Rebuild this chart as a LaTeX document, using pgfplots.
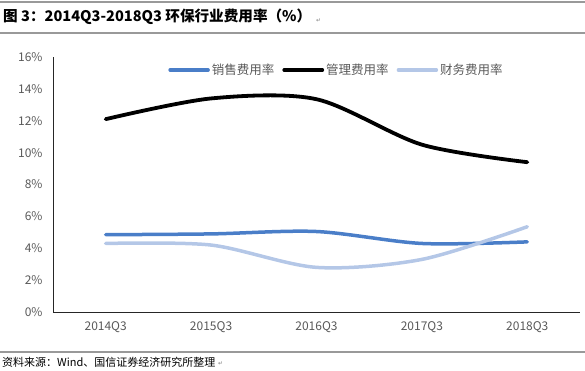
\documentclass[border=0pt]{standalone}
\usepackage{fontspec}
\setmainfont{Noto Sans CJK SC}
\newfontfamily\symfont{DejaVu Sans}
\usepackage{pgfplots}
\pgfplotsset{compat=1.18}
\definecolor{xsblue}{RGB}{74,126,200}
\definecolor{cwblue}{RGB}{180,199,231}
\definecolor{txtgray}{RGB}{89,89,89}
\begin{document}
\begin{tikzpicture}[x=1pt,y=1pt]
\begin{axis}[
  at={(53pt,59pt)}, anchor=south west,
  scale only axis, width=527pt, height=255pt,
  xmin=-0.5, xmax=4.5, ymin=0, ymax=16,
  axis lines=left,
  axis line style={-, draw=black!85, line width=0.9pt},
  xtick={0,1,2,3,4},
  xticklabels={2014Q3,2015Q3,2016Q3,2017Q3,2018Q3},
  ytick={0,2,4,6,8,10,12,14,16},
  yticklabel={\pgfmathprintnumber{\tick}\%},
  /pgf/number format/assume math mode=true,
  major tick length=0pt,
  tick label style={font=\fontsize{12}{14}\selectfont, text=txtgray},
  xticklabel style={yshift=-6pt},
  yticklabel style={xshift=-7pt},
  legend columns=3,
  legend image code/.code={\draw[#1] (0pt,0pt) -- (38pt,0pt);},
  legend style={draw=none, fill=none, at={(0.538,0.949)}, anchor=center,
    font=\fontsize{12.5}{14}\selectfont, text=txtgray,
    /tikz/every even column/.append style={column sep=6pt},
    /tikz/every odd column/.append style={inner xsep=1pt}},
]
\addplot[xsblue, line width=3.5pt, smooth, line cap=round] coordinates {(0,4.85) (1,4.9) (2,5.05) (3,4.3) (4,4.4)};
\addlegendentry{销售费用率}
\addplot[black, line width=3.8pt, smooth, line cap=round] coordinates {(0,12.1) (1,13.4) (2,13.35) (3,10.5) (4,9.4)};
\addlegendentry{管理费用率}
\addplot[cwblue, line width=3.5pt, smooth, line cap=round] coordinates {(0,4.3) (1,4.2) (2,2.8) (3,3.3) (4,5.35)};
\addlegendentry{财务费用率}
\end{axis}
\draw[gray!80, line width=1.2pt] (0,369) -- (585,369);
\draw[gray!80, line width=2pt] (0,338) -- (585,338);
\node[anchor=west, inner sep=0pt, font=\bfseries\fontsize{14.6}{16}\selectfont] at (3,354) {图 3：2014Q3-2018Q3 环保行业费用率（\%）};
\node[anchor=west, inner sep=0pt, font=\symfont\fontsize{6}{7}\selectfont, text=gray] at (316,350) {↵};
\draw[gray!80, line width=2pt] (0,19) -- (585,19);
\node[anchor=west, inner sep=0pt, font=\fontsize{11}{13}\selectfont] at (2,9) {资料来源：Wind、国信证券经济研究所整理};
\node[anchor=west, inner sep=0pt, font=\symfont\fontsize{6}{7}\selectfont, text=gray] at (218,7) {↵};
\pgfresetboundingbox
\path[use as bounding box] (0,0) rectangle (585,371);
\end{tikzpicture}
\end{document}
